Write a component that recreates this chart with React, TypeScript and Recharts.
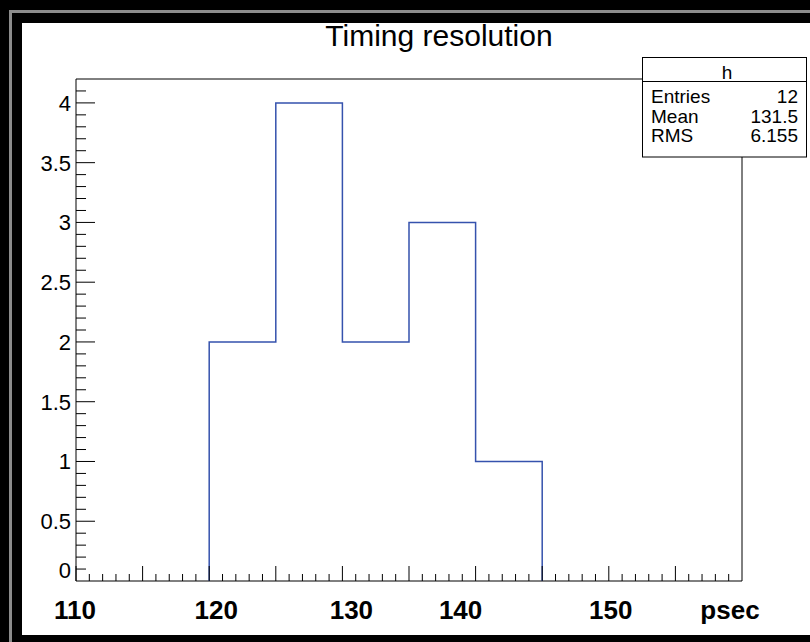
import React from "react";
import { LineChart, Line, XAxis, YAxis, ReferenceArea } from "recharts";

// histogram "h": bin edges and counts
const binEdges = [120, 125, 130, 135, 140, 145];
const counts = [2, 4, 2, 3, 1];

const statLabels = ["Entries", "Mean", "RMS"];
const statValues = ["12", "131.5", "6.155"];

const xLabels = [110, 120, 130, 140, 150];
const yLabels = [0, 0.5, 1, 1.5, 2, 2.5, 3, 3.5, 4];

const X_MIN = 110;
const X_MAX = 160;
const Y_MIN = 0;
const Y_MAX = 4.2;

const FONT = "'Liberation Sans', Arial, Helvetica, sans-serif";

// tick positions (minor every 1 on x, every 0.1 on y)
const xTicks = Array.from({ length: X_MAX - X_MIN }, (_, i) => X_MIN + i);
const yTicks = Array.from({ length: 42 }, (_, i) => i / 10);

// outline of the histogram, drawn as a step line down to the frame bottom
const stepData = [
  { x: binEdges[0], y: Y_MIN },
  ...counts.map((c, i) => ({ x: binEdges[i], y: c })),
  { x: binEdges[binEdges.length - 1], y: Y_MIN },
];

// ROOT places the bold labels slightly off their ticks
const xLabelShift: Record<number, number> = { 110: -1, 120: 7, 130: 9, 140: -15, 150: 2 };

function XTick(props: any) {
  const { x, y, payload } = props;
  const v = payload.value as number;
  const len = v % 5 === 0 ? 15 : 7;
  return (
    <g>
      <line x1={x} x2={x} y1={y} y2={y - len} stroke="#000" strokeWidth={1} />
      {xLabels.includes(v) && (
        <text
          x={x + (xLabelShift[v] || 0)}
          y={y + 38}
          textAnchor="middle"
          fontFamily={FONT}
          fontWeight="bold"
          fontSize={26}
          fill="#000"
        >
          {v}
        </text>
      )}
    </g>
  );
}

function YTick(props: any) {
  const { x, y, payload } = props;
  const v = Math.round(payload.value * 10) / 10;
  const major = yLabels.includes(v);
  // ROOT lifts the "0" label off the x axis
  const labelY = v === 0 ? y - 11 : y;
  return (
    <g>
      {v !== 0 && (
        <line x1={x} x2={x + (major ? 19 : 10)} y1={y} y2={y} stroke="#000" strokeWidth={1} />
      )}
      {major && (
        <text
          x={x - 5}
          y={labelY}
          dy="0.36em"
          textAnchor="end"
          fontFamily={FONT}
          fontSize={22}
          fill="#000"
        >
          {v}
        </text>
      )}
    </g>
  );
}

export default function App() {
  return (
    <div
      style={{
        position: "fixed",
        left: 0,
        top: 0,
        width: 810,
        height: 642,
        background: "#000",
        overflow: "hidden",
      }}
    >
      <div style={{ position: "absolute", left: 9, top: 10, width: 3, height: 632, background: "#8c8c8c" }} />
      <div style={{ position: "absolute", left: 9, top: 10, width: 801, height: 3, background: "#8c8c8c" }} />
      <div style={{ position: "absolute", left: 22, top: 23, width: 788, height: 612, background: "#fff" }} />

      <div style={{ position: "absolute", left: 0, top: 0 }}>
        <LineChart
          width={810}
          height={642}
          data={stepData}
          margin={{ top: 79, right: 68, left: 0, bottom: 0 }}
        >
          <XAxis
            dataKey="x"
            type="number"
            domain={[X_MIN, X_MAX]}
            ticks={xTicks}
            interval={0}
            allowDataOverflow
            height={61}
            tickSize={0}
            tickMargin={0}
            tickLine={false}
            axisLine={false}
            tick={(p: any) => <XTick {...p} />}
          />
          <YAxis
            type="number"
            domain={[Y_MIN, Y_MAX]}
            ticks={yTicks}
            interval={0}
            allowDataOverflow
            width={76}
            tickSize={0}
            tickMargin={0}
            tickLine={false}
            axisLine={false}
            tick={(p: any) => <YTick {...p} />}
          />
          <ReferenceArea
            x1={X_MIN}
            x2={X_MAX}
            y1={Y_MIN}
            y2={Y_MAX}
            fill="none"
            stroke="#000"
            strokeWidth={1}
            ifOverflow="visible"
          />
          <Line
            type="stepAfter"
            dataKey="y"
            stroke="#3552ad"
            strokeWidth={1.5}
            dot={false}
            activeDot={false}
            isAnimationActive={false}
          />
        </LineChart>
      </div>

      <svg
        width={810}
        height={642}
        style={{ position: "absolute", left: 0, top: 0, pointerEvents: "none" }}
      >
        <text x={439} y={46} textAnchor="middle" fontFamily={FONT} fontSize={30} fill="#000">
          Timing resolution
        </text>

        <rect x={642.5} y={57.5} width={164} height={99.5} fill="#fff" stroke="#000" strokeWidth={1} />
        <line x1={642.5} x2={806.5} y1={81.5} y2={81.5} stroke="#000" strokeWidth={1} />
        <text x={727} y={79} textAnchor="middle" fontFamily={FONT} fontSize={19} fill="#000">
          h
        </text>
        {statLabels.map((s, i) => (
          <g key={s}>
            <text x={651} y={103 + i * 19.5} fontFamily={FONT} fontSize={19} fill="#000">
              {s}
            </text>
            <text x={798} y={103 + i * 19.5} textAnchor="end" fontFamily={FONT} fontSize={19} fill="#000">
              {statValues[i]}
            </text>
          </g>
        ))}

        <text x={730} y={619} textAnchor="middle" fontFamily={FONT} fontWeight="bold" fontSize={26} fill="#000">
          psec
        </text>
      </svg>
    </div>
  );
}
